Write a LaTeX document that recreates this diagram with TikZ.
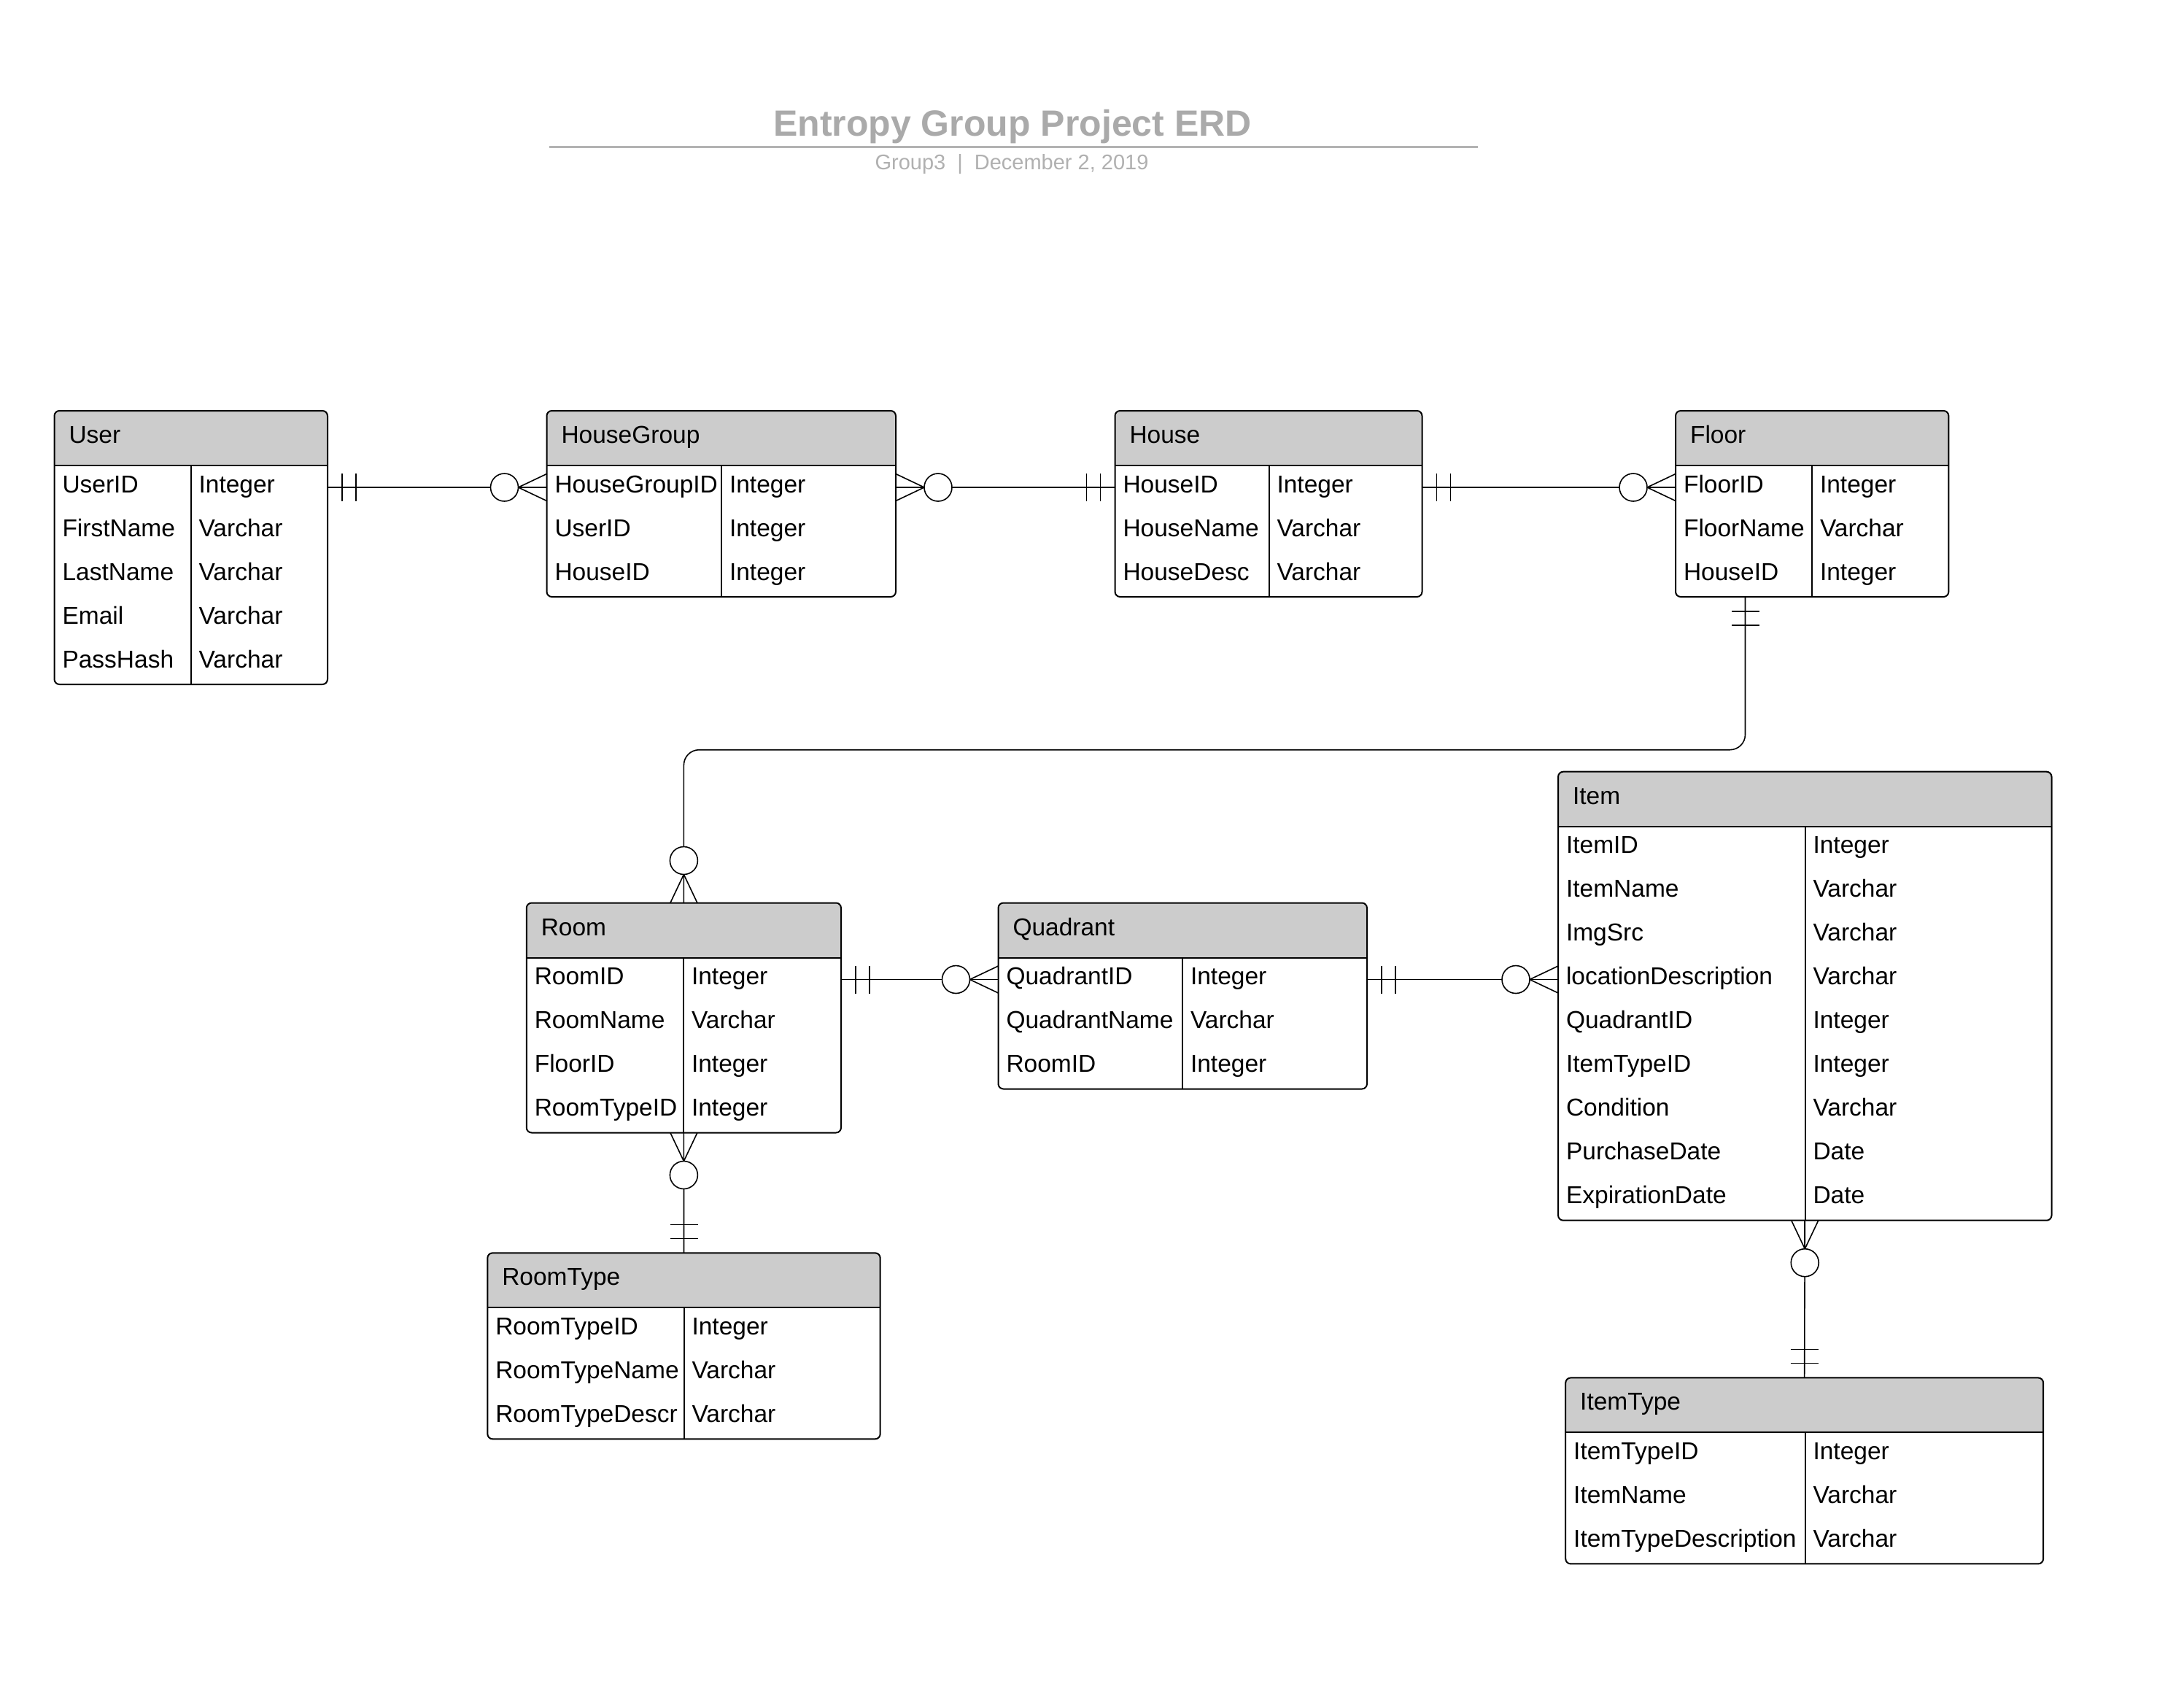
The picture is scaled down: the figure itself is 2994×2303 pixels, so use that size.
\documentclass[tikz,border=0pt]{standalone}
\usepackage{fontspec}
\setmainfont{Liberation Sans}
\usetikzlibrary{calc}
\definecolor{hdr}{HTML}{CCCCCC}
\definecolor{titlegray}{HTML}{AAAAAA}
\definecolor{subgray}{HTML}{B0B0B0}
\definecolor{rulegray}{HTML}{B3B3B3}
\tikzset{
  boxline/.style={line width=2pt, draw=black},
  conn/.style={line width=1.6pt, draw=black},
  cell/.style={inner sep=0pt, outer sep=0pt, font=\fontsize{33.5}{40}\selectfont},
  zeromany/.pic={
    \draw[conn] (0,-18.5) -- (39,0) -- (0,18.5);
    \draw[conn] (0,0) -- (39,0);
    \draw[conn, fill=white] (58,0) circle[radius=19pt];
  },
  oneone/.pic={
    \draw[conn] (20,-19) -- (20,19) (39,-19) -- (39,19);
  }
}
% #1 name, #2 left, #3 top, #4 right, #5 divider, #6 number of rows, #7 title, #8 rows
\newcommand{\erdtable}[8]{%
  \pgfmathsetmacro\erdH{#3+75}%
  \pgfmathsetmacro\erdB{#3+75+60*#6}%
  \pgfmathsetmacro\erdW{#4-#2}%
  \pgfmathsetmacro\erdHt{75+60*#6}%
  \node[inner sep=0pt, outer sep=0pt, minimum width=\erdW pt, minimum height=\erdHt pt, anchor=north west] (#1) at (#2,#3) {};
  \fill[hdr] (#2,\erdH) [rounded corners=7pt] -- (#2,#3) -- (#4,#3) [sharp corners] -- (#4,\erdH) -- cycle;
  \draw[boxline] (#2,\erdH) -- (#4,\erdH);
  \draw[boxline] (#5,\erdH) -- (#5,\erdB);
  \draw[boxline, rounded corners=7pt] (#2,#3) rectangle (#4,\erdB);
  \node[cell, anchor=base west] (#1-title) at (#2+20,#3+44.5) {#7};
  \coordinate (#1-l) at (#2,\erdH+30);
  \coordinate (#1-r) at (#4,\erdH+30);
  \foreach \a/\b [count=\i from 0] in {#8} {
    \node[cell, anchor=base west] (#1-a\i) at (#2+11,\erdH+37+60*\i) {\a};
    \node[cell, anchor=base west] (#1-b\i) at (#5+11,\erdH+37+60*\i) {\b};
  }%
}
\begin{document}
\begin{tikzpicture}[x=1pt,y=-1pt]
\useasboundingbox (0,0) rectangle (2994,2303);
% title
\node[inner sep=0pt, anchor=base, text=titlegray, font=\fontsize{50}{60}\selectfont\bfseries] (title) at (1388,186) {Entropy Group Project ERD};
\draw[rulegray, line width=3pt] (753,201) -- (2026,201);
\node[inner sep=0pt, anchor=base, text=subgray, font=\fontsize{29}{35}\selectfont] (subtitle) at (1387,232) {Group3\hspace{16pt}|\hspace{16pt}December 2, 2019};

% tables
\erdtable{user}{74.5}{563}{449}{261.6}{5}{User}{UserID/Integer,FirstName/Varchar,LastName/Varchar,Email/Varchar,PassHash/Varchar}
\erdtable{housegroup}{749.5}{563}{1228}{989}{3}{HouseGroup}{HouseGroupID/Integer,UserID/Integer,HouseID/Integer}
\erdtable{house}{1528.5}{563}{1949.5}{1739.5}{3}{House}{HouseID/Integer,HouseName/Varchar,HouseDesc/Varchar}
\erdtable{floor}{2297}{563}{2671.3}{2484}{3}{Floor}{FloorID/Integer,FloorName/Varchar,HouseID/Integer}
\erdtable{item}{2136}{1057.7}{2812.5}{2474.5}{9}{Item}{ItemID/Integer,ItemName/Varchar,ImgSrc/Varchar,locationDescription/Varchar,QuadrantID/Integer,ItemTypeID/Integer,Condition/Varchar,PurchaseDate/Date,ExpirationDate/Date}
\erdtable{room}{721.8}{1237.5}{1153}{937}{4}{Room}{RoomID/Integer,RoomName/Varchar,FloorID/Integer,RoomTypeID/Integer}
\erdtable{quadrant}{1368.5}{1237.5}{1874}{1621}{3}{Quadrant}{QuadrantID/Integer,QuadrantName/Varchar,RoomID/Integer}
\erdtable{roomtype}{668.3}{1717.3}{1206.7}{937.5}{3}{RoomType}{RoomTypeID/Integer,RoomTypeName/Varchar,RoomTypeDescr/Varchar}
\erdtable{itemtype}{2146.2}{1888.4}{2801.1}{2474.5}{3}{ItemType}{ItemTypeID/Integer,ItemName/Varchar,ItemTypeDescription/Varchar}

% connectors
% User -- HouseGroup
\draw[conn] (user-r) -- (housegroup-l);
\pic at (user-r) {oneone};
\pic[rotate=180] at (housegroup-l) {zeromany};
% HouseGroup -- House
\draw[conn] (housegroup-r) -- (house-l);
\pic at (housegroup-r) {zeromany};
\pic[rotate=180] at (house-l) {oneone};
% House -- Floor
\draw[conn] (house-r) -- (floor-l);
\pic at (house-r) {oneone};
\pic[rotate=180] at (floor-l) {zeromany};
% Floor -- Room
\coordinate (flb) at ([xshift=95.5pt]floor.south west);
\coordinate (bendy) at (0,1027.7);
\draw[conn, rounded corners=21pt] (flb) -- (flb |- bendy) -- (room.north |- bendy) -- (room.north);
\pic[rotate=-90] at (flb) {oneone};
\pic[rotate=90] at (room.north) {zeromany};
% Room -- Quadrant
\draw[conn] (room-r) -- (quadrant-l);
\pic at (room-r) {oneone};
\pic[rotate=180] at (quadrant-l) {zeromany};
% Quadrant -- Item
\coordinate (iteml) at (quadrant-r -| item.west);
\draw[conn] (quadrant-r) -- (iteml);
\pic at (quadrant-r) {oneone};
\pic[rotate=180] at (iteml) {zeromany};
% Room -- RoomType
\draw[conn] (room.south) -- (roomtype.north);
\pic[rotate=-90] at (room.south) {zeromany};
\pic[rotate=90] at (roomtype.north) {oneone};
% Item -- ItemType
\draw[conn] (item.south) -- (itemtype.north);
\pic[rotate=-90] at (item.south) {zeromany};
\pic[rotate=90] at (itemtype.north) {oneone};
\end{tikzpicture}
\end{document}
